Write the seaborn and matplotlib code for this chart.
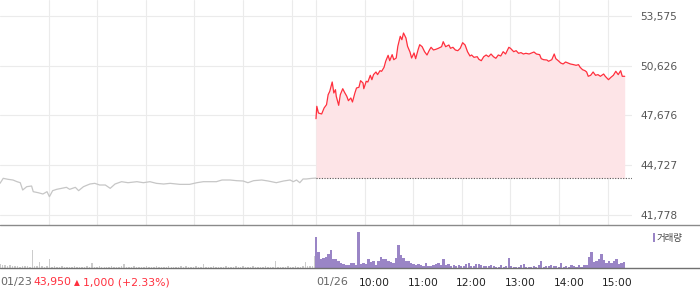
import numpy as np
import pandas as pd
import matplotlib
matplotlib.use("Agg")
import matplotlib.pyplot as plt
import matplotlib.transforms as mtransforms
from matplotlib.patches import Rectangle
from matplotlib.lines import Line2D
import seaborn as sns

# ---------------- data ----------------
prev_close = 43950
session_minutes = 390
y_ticks = [41778, 44727, 47676, 50626, 53575]
date_labels = ["01/23", "01/26"]
hour_labels = ["10:00", "11:00", "12:00", "13:00", "14:00", "15:00"]
change_parts = ["43,950", "\u25b2", "1,000 (+2.33%)"]
legend_label = "거래량"

# previous session (01/23), minutes since 09:00
prev_t = [0, 4, 10, 16, 21, 25, 28, 33, 39, 41, 47, 53, 58, 61, 65, 70, 76, 82, 86, 93,
          97, 103, 111, 117, 123, 130, 136, 142, 150, 158, 169, 177, 185, 193, 202, 210, 222, 234, 243, 251,
          259, 267, 274, 284, 292, 300, 306, 313, 323, 331, 341, 350, 358, 362, 366, 370, 374, 378, 385, 390]
prev_price = [43638, 43935, 43876, 43836, 43736, 43676, 43242, 43440, 43480, 43143,
              43083, 43005, 43143, 42847, 43203, 43283, 43341, 43401, 43283, 43401,
              43203, 43440, 43598, 43638, 43539, 43539, 43341, 43598, 43736, 43676,
              43736, 43676, 43736, 43638, 43598, 43638, 43577, 43577, 43676, 43736,
              43736, 43736, 43836, 43836, 43796, 43777, 43676, 43796, 43836, 43777,
              43676, 43777, 43836, 43736, 43836, 43676, 43896, 43896, 43935, 43950]

# current session (01/26), minutes since 09:00
today_t = [0, 1, 3, 7, 10, 13, 15, 17, 20, 22, 24, 25, 28, 30, 33, 35, 38, 40, 43, 45,
           48, 50, 53, 55, 58, 59, 62, 64, 67, 69, 71, 74, 76, 79, 81, 84, 86, 89, 91, 94,
           96, 99, 101, 104, 106, 108, 111, 113, 116, 118, 121, 123, 126, 128,
           131, 134, 137, 140, 142, 145, 148, 151, 155, 157, 160, 164, 166, 169, 172, 175,
           178, 181, 184, 187, 190, 192, 195, 199, 201, 204, 207, 210, 213, 216, 219, 222,
           225, 228, 231, 234, 238, 240, 244, 247, 250, 253, 256, 259,
           263, 266, 269, 272, 276, 278, 281, 285, 287, 291, 294, 296, 299, 302, 305, 308,
           311, 314, 318, 321, 324, 326, 329, 332, 334, 336, 339, 342, 345, 348, 351, 355,
           357, 361, 364, 367, 370, 373, 376, 378, 381]
today_price = [47476, 48213, 47815, 47756, 48112, 48310, 48903, 49103, 49656, 49003,
               49199, 48806, 48271, 48903, 49258, 49062, 48806, 48545, 48706, 48468,
               49003, 49300, 49341, 49734, 49597, 49258, 49697, 49656, 50053, 49793,
               50093, 50250, 50093, 50327, 50290, 50528, 50885, 51240, 50920, 51280,
               50980, 51080, 51776, 52370, 52168, 52565, 52269, 51776, 51437, 51080,
               51378, 51040, 51574, 51871,
               51752, 51455, 51259, 51556, 51716, 51556, 51598, 51657, 51752, 52049,
               51752, 51853, 51657, 51716, 51556, 51515, 51657, 51990, 51853, 51455,
               51200, 51259, 51120, 51158, 51004, 50920, 51158, 51259, 51158, 51318,
               51158, 51063, 51259, 51200, 51455, 51318, 51716, 51657, 51455, 51515,
               51360, 51400, 51318, 51360,
               51318, 51378, 51437, 51318, 51280, 51040, 50980, 50962, 50885, 50980,
               51318, 51040, 50920, 50784, 50725, 50843, 50784, 50725, 50685, 50646,
               50685, 50528, 50386, 50327, 50250, 49994, 50053, 50250, 50053, 50093,
               49994, 50131, 49994, 49793, 49935, 50053, 50290, 50093, 50327, 49994,
               49994]

# volume (thousand shares, approx.)
prev_vol = [4.0, 3.0, 3.5, 2.5, 3.0, 2.5, 2.0, 2.0, 1.5, 2.0, 2.5, 2.0, 1.5, 18.0, 2.0, 2.5, 6.5, 2.0, 1.5, 2.0,
            9.0, 1.5, 2.0, 1.5, 1.5, 2.0, 1.5, 1.5, 1.3, 1.5, 2.0, 1.5, 1.5, 1.3, 1.5, 2.0, 1.5, 5.0, 1.5, 1.5,
            2.0, 1.5, 1.3, 1.5, 1.5, 2.0, 1.5, 1.5, 1.3, 2.0, 4.5, 1.5, 1.3, 1.5, 2.0, 1.5, 1.3, 1.5, 1.5, 2.0,
            1.5, 1.3, 1.5, 2.0, 1.5, 1.5, 1.3, 1.5, 2.0, 1.5, 1.5, 1.3, 1.5, 2.0, 1.5, 2.5, 1.5, 1.3, 1.5, 2.0,
            1.5, 1.5, 4.5, 1.5, 1.3, 1.5, 2.0, 1.5, 1.5, 1.3, 1.5, 2.0, 1.5, 1.5, 1.3, 2.0, 1.5, 1.5, 2.0, 1.5,
            1.3, 1.5, 2.0, 1.5, 1.5, 1.3, 1.5, 2.0, 1.5, 1.5, 1.3, 7.5, 1.5, 1.5, 1.5, 1.3, 2.0, 1.5, 1.5, 2.0,
            1.5, 1.3, 2.0, 6.5, 2.5, 2.0, 2.0, 12.0]
today_vol = [31, 16, 8.7, 10, 11, 13.7, 18, 8.7, 8.7, 7, 4.7, 3.7, 3, 2.7, 5.3, 4.7, 2.7, 36, 3.7, 4.7,
             3.7, 9.3, 6, 7, 2.7, 7, 11.3, 8.7, 8.7, 7.3, 6, 5.3, 10.3, 23, 12.7, 10.3, 7, 7, 5.3, 3.7,
             2.7, 3.7, 2.7, 2, 5.3, 2, 2, 2.7, 3.7, 5.3, 2.7, 8.7, 2.7, 3.7, 2, 2.7, 2, 2.7, 2, 2,
             3.7, 4.7,
             2, 2, 3.7, 3.7, 2.7, 2, 2, 2, 2.7, 2, 1.3, 1.3, 2.7, 1.3, 2, 10, 2, 1.3, 1.3, 1.3,
             2.7, 3.7, 1.3, 1.3, 1.3, 2, 1.3, 2.7, 7, 1.3, 2, 2, 2.7, 2, 2, 1.3, 4.7, 1.3, 2, 1.3,
             2.7, 2, 1.3, 2.7, 1.3, 2.7, 2.7, 11.3, 16, 6, 7, 8.7, 13.7, 8, 4.7, 7, 5.3, 7, 8.7, 3.7,
             4.7, 6]

# ---------------- style ----------------
sns.set_theme(style="white")
plt.rcParams['font.family'] = ['DejaVu Sans', 'Noto Sans CJK KR']

RED = "#ff2f3d"
FILL = "#fde4e7"
GREY_LINE = "#c6c6c6"
PURPLE = "#9a85c6"
GRID = "#ebebeb"

W, H = 700, 289
fig = plt.figure(figsize=(W / 100, H / 100), dpi=100)
fig.patch.set_facecolor("white")


def fx(px):
    return px / W


def fy(py):
    return 1 - py / H


ax = fig.add_axes([0, fy(225), fx(632), 225 / H])
axv = fig.add_axes([0, fy(268), fx(632), (268 - 226) / H])

total = 2 * session_minutes
ymin, ymax = 41164, 54525

# price lines
prev_df = pd.DataFrame({"t": prev_t, "price": prev_price})
today_df = pd.DataFrame({"t": np.array(today_t) + session_minutes, "price": today_price})

ax.fill_between(today_df["t"], today_df["price"], prev_close, color=FILL, lw=0, zorder=1)
sns.lineplot(data=prev_df, x="t", y="price", ax=ax, color=GREY_LINE, lw=0.9,
             estimator=None, sort=False, zorder=3)
sns.lineplot(data=today_df, x="t", y="price", ax=ax, color=RED, lw=0.9,
             estimator=None, sort=False, zorder=4)
ax.hlines(prev_close, session_minutes, total, colors="#555555", linestyles=(0, (1, 1.4)),
          lw=0.8, zorder=5)

ax.set_xlim(0, total)
ax.set_ylim(ymin, ymax)
grid_x = [h * 60 for h in range(1, 7)] + [session_minutes] + \
         [session_minutes + h * 60 for h in range(1, 7)]
ax.set_xticks(grid_x)
ax.set_yticks(y_ticks)
ax.set_yticklabels([f"{v:,}" for v in y_ticks])
ax.yaxis.tick_right()
ax.grid(True, color=GRID, lw=0.8, zorder=0)
ax.set_axisbelow(True)
ax.tick_params(axis="x", length=0, labelbottom=False)
ax.tick_params(axis="y", length=0, pad=6, labelsize=7.7, labelcolor="#555555")
ax.set_xlabel("")
ax.set_ylabel("")
for s in ax.spines.values():
    s.set_visible(False)

# volume bars
prev_vt = np.linspace(0, session_minutes - 1, len(prev_vol))
today_vt = np.linspace(0, 380, len(today_vol)) + session_minutes
axv.bar(prev_vt, prev_vol, width=1.8, color="#cccccc", lw=0)
axv.bar(today_vt, today_vol, width=2.9, color=PURPLE, lw=0)
axv.set_xlim(0, total)
axv.set_ylim(0, 42)
axv.set_yticks([])
tick_pos = [0, session_minutes] + [session_minutes + h * 60 for h in range(1, 7)]
axv.set_xticks(tick_pos)
axv.set_xticklabels([])
axv.tick_params(axis="x", length=3, width=0.8, color="#555555", direction="out", pad=0)
for s in axv.spines.values():
    s.set_visible(False)
axv.set_facecolor("none")
ax.set_facecolor("none")

# separator lines
fig.add_artist(Line2D([0, 1], [fy(225.3), fy(225.3)], color="#8a8a8a", lw=1.0,
                      transform=fig.transFigure))
fig.add_artist(Line2D([0, 1], [fy(268.3), fy(268.3)], color="#707070", lw=1.0,
                      transform=fig.transFigure))

# bottom labels
trans = mtransforms.blended_transform_factory(axv.transData, fig.transFigure)
ty = fy(282.5)
axv.text(0, ty, date_labels[0], transform=trans, ha="left", va="center",
         fontsize=8.0, color="#666666", clip_on=False)
axv.text(session_minutes, ty, date_labels[1], transform=trans, ha="left", va="center",
         fontsize=8.0, color="#666666", clip_on=False)
off = mtransforms.ScaledTranslation(-5.5 / 100, 0, fig.dpi_scale_trans)
for i, lab in enumerate(hour_labels):
    axv.text(session_minutes + (i + 1) * 60, ty, lab, transform=trans + off,
             ha="left", va="center", fontsize=7.7, color="#222222", clip_on=False)

fig.text(fx(33), ty, change_parts[0], ha="left", va="center", fontsize=7.8, color=RED)
fig.text(fx(73.5), ty, change_parts[1], ha="left", va="center", fontsize=5.5, color=RED)
fig.text(fx(83), ty, change_parts[2], ha="left", va="center", fontsize=7.8, color=RED)

# legend
fig.add_artist(Rectangle((fx(652.7), fy(242)), fx(2.6), 9 / H, color=PURPLE,
                         transform=fig.transFigure, lw=0))
fig.text(fx(657), fy(238), legend_label, ha="left", va="center", fontsize=6.8, color="#444444")

fig.savefig("out.png", dpi=100, facecolor="white")
